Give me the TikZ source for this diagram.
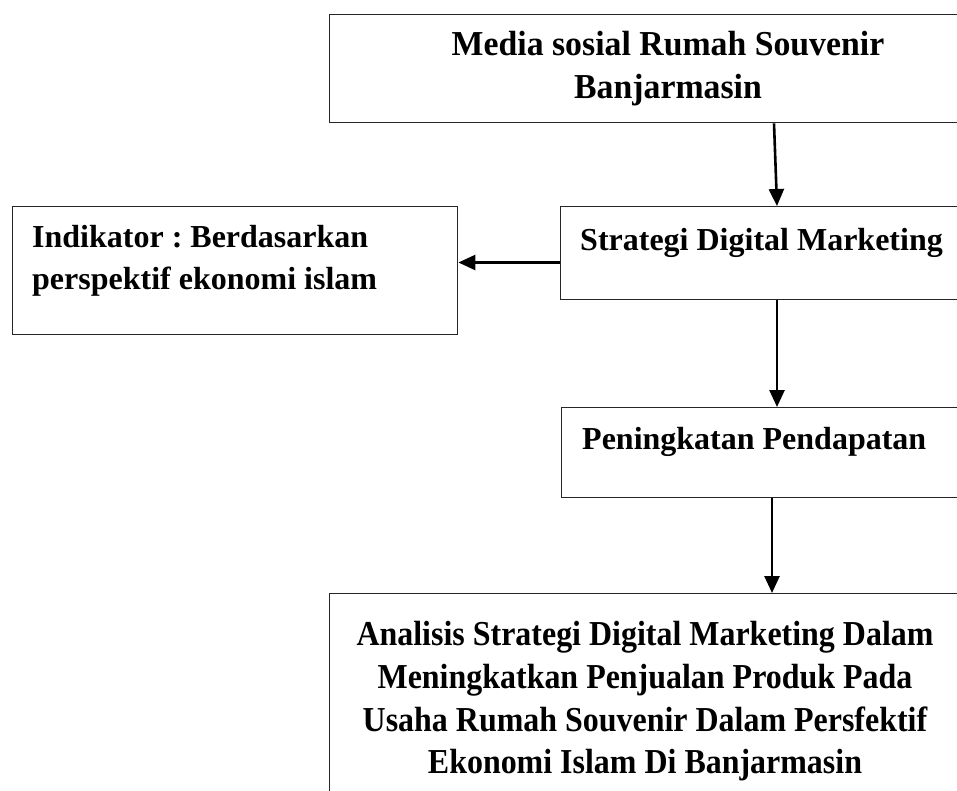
\documentclass[tikz,border=0pt]{standalone}
\usepackage{fontspec}
\setmainfont{Liberation Serif}
\newfontfamily\topfont[FakeStretch=0.965]{Liberation Serif}
\newfontfamily\botfont[FakeStretch=0.913]{Liberation Serif}
\usetikzlibrary{arrows.meta}
\frenchspacing
\begin{document}
\begin{tikzpicture}[x=1pt,y=-1pt,
  box/.style={draw=black!85, line width=1.4pt, rectangle, inner sep=0pt, anchor=north west},
  arr/.style={-{Triangle[length=17pt,width=15pt]}, line width=2.6pt},
  txt/.style={font=\bfseries\fontsize{32}{42}\selectfont, inner sep=0pt},
  toptxt/.style={font=\topfont\bfseries\fontsize{35}{43}\selectfont, inner sep=0pt, align=center, anchor=north},
  bottxt/.style={font=\botfont\bfseries\fontsize{35}{42.7}\selectfont, inner sep=0pt, align=center, anchor=north}]
\useasboundingbox (0,0) rectangle (957,790);
\clip (0,0) rectangle (957,790);
\node[box, minimum width=671pt, minimum height=108pt] (media) at (329,14) {};
\node[box, minimum width=445pt, minimum height=128pt] (ind) at (12,206) {};
\node[box, minimum width=440pt, minimum height=93pt] (strat) at (560,206) {};
\node[box, minimum width=439pt, minimum height=90pt] (pen) at (561,407) {};
\node[box, minimum width=671pt, minimum height=237pt] (anal) at (329,593) {};
\node[toptxt] (tmedia) at (668,31.3) {Media sosial Rumah Souvenir\\Banjarmasin};
\node[txt, align=left, anchor=north west] (tind) at (32,225.3) {Indikator : Berdasarkan\\perspektif ekonomi islam};
\node[txt, anchor=base west] (tstrat) at (580,250) {Strategi Digital Marketing};
\node[txt, anchor=base west] (tpen) at (582,449) {Peningkatan Pendapatan};
\node[bottxt] (tanal) at (645,621.3) {Analisis Strategi Digital Marketing Dalam\\Meningkatkan Penjualan Produk Pada\\Usaha Rumah Souvenir Dalam Persfektif\\Ekonomi Islam Di Banjarmasin};
\coordinate (c1a) at (774,0);
\coordinate (c1b) at (777,0);
\coordinate (c2) at (0,262.5);
\coordinate (c3) at (777,0);
\coordinate (c4) at (772,0);
\draw[arr] (media.south -| c1a) -- (strat.north -| c1b);
\draw[arr] (strat.west |- c2) -- (ind.east |- c2);
\draw[arr] (strat.south -| c3) -- (pen.north -| c3);
\draw[arr] (pen.south -| c4) -- (anal.north -| c4);
\end{tikzpicture}
\end{document}
